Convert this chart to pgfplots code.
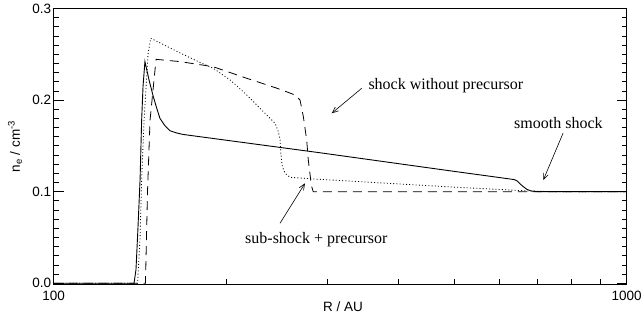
\documentclass[border=0pt]{standalone}
\usepackage{fontspec}
\setmainfont{Liberation Sans}
\newfontfamily\tms{Liberation Serif}
\usepackage{pgfplots}
\pgfplotsset{compat=1.18}
\usetikzlibrary{arrows.meta}

\begin{document}
\begin{tikzpicture}
% fixed page area around the frame
\path[use as bounding box] (-53.5pt,-36.8pt) rectangle (590.5pt,284.2pt);
\begin{axis}[
  at={(0pt,0pt)}, anchor=south west,
  scale only axis, width=573pt, height=275.7pt,
  xmode=log, xmin=100, xmax=1000,
  ymin=-0.001, ymax=0.3,
  xtick={100,1000}, xticklabels={100,1000},
  minor xtick={200,300,400,500,600,700,800,900},
  ytick={0,0.1,0.2,0.3}, yticklabels={0.0,0.1,0.2,0.3},
  minor y tick num=9,
  xtick pos=lower, ytick pos=both, tick align=inside,
  xticklabel pos=lower, yticklabel pos=left,
  major tick length=10pt, minor tick length=5pt,
  line width=1.1pt,
  tick style={line width=0.8pt, black},
  /pgf/number format/assume math mode=true,
  tick label style={font=\fontsize{13.5}{16}\selectfont},
  xticklabel style={yshift=-3pt},
  yticklabel style={xshift=1.5pt},
]
% smooth shock
\addplot[black, line width=0.9pt] coordinates {
  (100,0) (138.2,0) (139.3,0.015) (140.4,0.06) (141.6,0.113) (142.5,0.178)
  (143.3,0.215) (144.4,0.242) (146.8,0.222) (149.3,0.204) (151.6,0.19)
  (153.4,0.18) (156.5,0.172) (159.7,0.1665) (164.3,0.164) (168.3,0.1625)
  (291.8,0.1425) (492.0,0.1228) (613.8,0.1146) (637,0.1132) (645,0.1115)
  (652,0.1085) (660.5,0.1055) (670.5,0.1025) (681.4,0.1008) (700.6,0.1)
  (1000,0.1)
};
% sub-shock + precursor
\addplot[black, line width=0.8pt, dash pattern=on 1pt off 2.2pt] coordinates {
  (100,0) (140.2,0) (141.6,0.05) (142.5,0.113) (143.9,0.178) (146.2,0.25)
  (147.8,0.2675) (166.3,0.2515) (180.3,0.241) (190.1,0.2347) (203.3,0.222)
  (217.4,0.2056) (232.4,0.1873) (243.6,0.1747) (246.9,0.1655) (248.6,0.1565)
  (249.3,0.142) (250.8,0.1273) (253.6,0.12) (258.7,0.1157) (284.0,0.1139)
  (492,0.1052) (678.5,0.1007) (765.5,0.1) (1000,0.1)
};
% shock without precursor
\addplot[black, line width=0.8pt, dash pattern=on 9pt off 6pt] coordinates {
  (100,0) (144.7,0) (145.9,0.1) (147.4,0.178) (151.0,0.2445) (166.3,0.242)
  (189.8,0.2365) (217.4,0.2238) (245.3,0.213) (263.9,0.2056) (269.3,0.2001)
  (272.9,0.182) (276.6,0.1565) (278.4,0.1346) (281.1,0.1128) (282.2,0.1055)
  (284.0,0.1) (1000,0.1)
};
\end{axis}
% axis titles
\node[anchor=base, inner sep=0pt, font=\fontsize{13.5}{16}\selectfont]
  at (289.5pt,-26.8pt) {R / AU};
\node[rotate=90, anchor=center, inner sep=0pt, font=\fontsize{13.5}{16}\selectfont]
  at (-38.5pt,137.8pt) {n\textsubscript{e} / cm\textsuperscript{-3}};
% annotations
\tikzset{lbl/.style={anchor=base west, inner sep=0pt, font=\tms\fontsize{16}{19}\selectfont},
         arr/.style={line width=0.6pt, -{Straight Barb[length=6pt,width=5pt]}}}
\node[lbl] at (314.8pt,194.7pt) {shock without precursor};
\draw[arr] (308.2pt,195.9pt) -- (278.2pt,170.9pt);
\node[lbl] at (191.5pt,40.9pt) {sub-shock + precursor};
\draw[arr] (226.5pt,60.9pt) -- (251.5pt,100.9pt);
\node[lbl] at (460.5pt,155.2pt) {smooth shock};
\draw[arr] (509.5pt,150.9pt) -- (489.8pt,104.2pt);
\end{tikzpicture}
\end{document}
